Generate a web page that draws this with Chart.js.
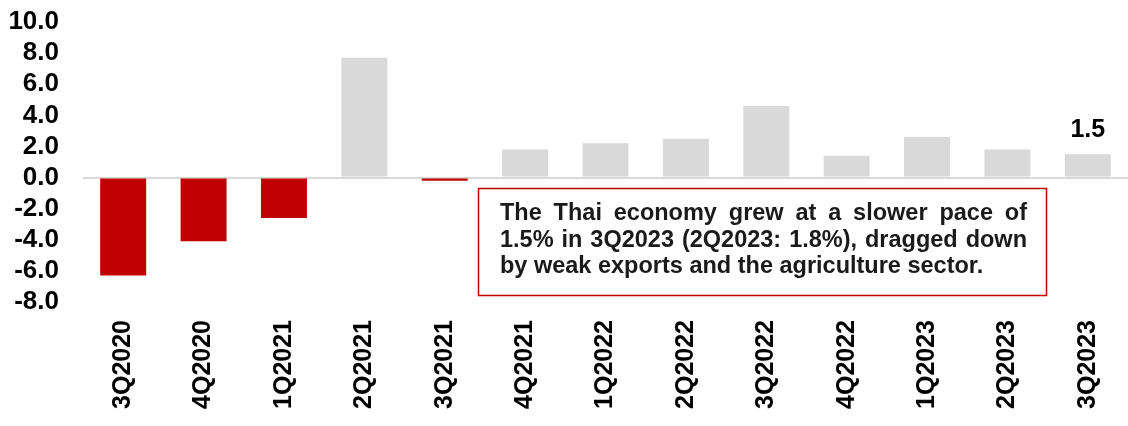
<!DOCTYPE html>
<html><head><meta charset="utf-8">
<script src="https://cdn.jsdelivr.net/npm/chart.js@4.4.0/dist/chart.umd.min.js"></script>
<style>html,body{margin:0;padding:0;background:#fff}#wrap{width:1128px;height:426px;position:relative}</style>
</head><body><div id="wrap"><canvas id="c"></canvas></div>
<script>
const categories = ["3Q2020","4Q2020","1Q2021","2Q2021","3Q2021","4Q2021","1Q2022","2Q2022","3Q2022","4Q2022","1Q2023","2Q2023","3Q2023"];
const gdpGrowth = [-6.3,-4.1,-2.6,7.7,-0.2,1.8,2.2,2.5,4.6,1.4,2.6,1.8,1.5];
const yMin = -8, yMax = 10, yStep = 2;
const labelledIndex = 12;
const noteLines = ["The Thai economy grew at a slower pace of","1.5% in 3Q2023 (2Q2023: 1.8%), dragged down","by weak exports and the agriculture sector."];

const FONT = "'Liberation Sans', Arial, sans-serif";
const RED = '#c00000', GREY = '#d9d9d9';

const notePlugin = {
  id: 'note',
  afterDraw(chart) {
    const ctx = chart.ctx;
    ctx.save();
    const meta = chart.getDatasetMeta(0);
    const el = meta.data[labelledIndex];
    ctx.font = "bold 25px " + FONT;
    ctx.fillStyle = '#000';
    ctx.textAlign = 'center';
    ctx.textBaseline = 'alphabetic';
    ctx.fillText(gdpGrowth[labelledIndex].toFixed(1), el.x, el.y - 17);
    const bx = 478.5, by = 188.5, bw = 568, bh = 107;
    ctx.strokeStyle = RED; ctx.lineWidth = 1.5;
    ctx.strokeRect(bx, by, bw, bh);
    ctx.fillStyle = '#1a1a1a';
    ctx.font = "bold 23.5px " + FONT;
    ctx.textAlign = 'left';
    const left = 500, width = 527, base = 220, lh = 26.5;
    noteLines.forEach((line, i) => {
      const y = base + i * lh;
      if (i === noteLines.length - 1) { ctx.fillText(line, left, y); return; }
      const words = line.split(' ');
      const sum = words.reduce((s, w) => s + ctx.measureText(w).width, 0);
      const gap = (width - sum) / (words.length - 1);
      let x = left;
      words.forEach(w => { ctx.fillText(w, x, y); x += ctx.measureText(w).width + gap; });
    });
    ctx.restore();
  }
};

new Chart(document.getElementById('c'), {
  type: 'bar',
  data: {
    labels: categories,
    datasets: [{
      data: gdpGrowth,
      backgroundColor: gdpGrowth.map(v => v < 0 ? RED : GREY),
      borderWidth: 0,
      barPercentage: 0.572,
      categoryPercentage: 1
    }]
  },
  options: {
    responsive: true, maintainAspectRatio: false, animation: false,
    layout: { padding: { top: 22, left: 0, right: 0, bottom: 0 } },
    plugins: { legend: { display: false }, tooltip: { enabled: false } },
    scales: {
      x: {
        grid: { display: false, drawTicks: false },
        border: { display: false },
        ticks: { color: '#000', font: { family: FONT, size: 25, weight: 'bold' }, minRotation: 90, maxRotation: 90, padding: 18, autoSkip: false },
        afterFit(s) { s.height = 124; s.paddingLeft = 0; s.paddingRight = 0; }
      },
      y: {
        min: yMin, max: yMax,
        grid: { drawTicks: false, color: c => c.tick && c.tick.value === 0 ? GREY : 'rgba(0,0,0,0)', lineWidth: 2 },
        border: { display: false },
        ticks: { stepSize: yStep, autoSkip: false, color: '#000', font: { family: FONT, size: 26, weight: 'bold' }, padding: 24, callback: v => Number(v).toFixed(1) },
        afterFit(s) { s.width = 83; s.paddingTop = 0; s.paddingBottom = 0; }
      }
    }
  },
  plugins: [notePlugin]
});
</script></body></html>
